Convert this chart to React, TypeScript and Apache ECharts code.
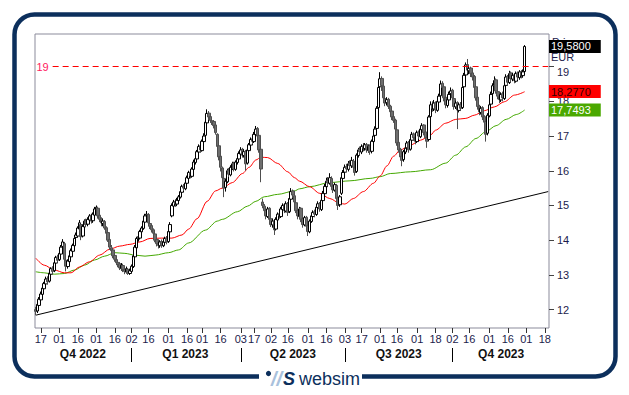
import React, { useEffect, useRef } from 'react';
import * as echarts from 'echarts';

const FONT = '"Liberation Sans", Arial, sans-serif';

// trading calendar (category axis)
const START = '2022-10-12';
const END = '2023-12-20';
const HOLIDAYS = ['2022-12-26', '2023-04-07', '2023-04-10', '2023-05-01', '2023-08-15'];

function tradingDays(): string[] {
  const out: string[] = [];
  const d = new Date(START + 'T12:00:00Z');
  const end = new Date(END + 'T12:00:00Z');
  while (d <= end) {
    const wd = d.getUTCDay();
    const s = d.toISOString().slice(0, 10);
    if (wd !== 0 && wd !== 6 && HOLIDAYS.indexOf(s) < 0) out.push(s);
    d.setUTCDate(d.getUTCDate() + 1);
  }
  return out;
}
const dates = tradingDays();

// x tick labels
const tickDates = [
  '2022-10-17', '2022-11-01', '2022-11-16', '2022-12-01', '2022-12-16',
  '2023-01-02', '2023-01-16', '2023-02-01', '2023-02-16', '2023-03-01', '2023-03-16',
  '2023-04-03', '2023-04-17', '2023-05-02', '2023-05-16', '2023-06-01', '2023-06-16',
  '2023-07-03', '2023-07-17', '2023-08-01', '2023-08-16', '2023-09-01', '2023-09-18',
  '2023-10-02', '2023-10-16', '2023-11-01', '2023-11-16', '2023-12-01', '2023-12-18',
];
const quarterLabels = ['Q4 2022', 'Q1 2023', 'Q2 2023', 'Q3 2023', 'Q4 2023'];
const quarterStarts = ['2022-10-12', '2023-01-02', '2023-04-03', '2023-07-03', '2023-10-02'];

const yTicks = [12, 13, 14, 15, 16, 17, 18, 19];
const resistance = 19;

// daily candles [open, close, low, high], 12 Oct 2022 .. 30 Nov 2023
const candles: number[][] = [
  [12.00,11.95,11.84,12.08],[11.96,12.15,11.90,12.20],[12.12,12.30,12.08,12.36],[12.28,12.45,12.22,12.52],[12.44,12.62,12.40,12.70],
  [12.60,12.75,12.55,12.80],[12.74,12.88,12.68,12.95],[12.90,12.80,12.72,12.96],[12.82,13.05,12.78,13.10],[13.02,13.18,12.98,13.22],
  [13.20,13.10,13.02,13.25],[13.12,13.35,13.08,13.40],[13.34,13.50,13.28,13.55],[13.52,13.42,13.35,13.58],[13.44,13.62,13.40,13.68],
  [13.60,13.80,13.55,13.86],[13.82,13.95,13.75,14.03],[13.90,13.45,13.40,13.95],[13.42,13.25,13.10,13.48],[13.24,13.40,13.18,13.45],
  [13.38,13.55,13.32,13.60],[13.52,13.70,13.48,13.76],[13.68,13.85,13.62,13.90],[13.84,14.05,13.80,14.10],[14.08,14.15,13.98,14.22],
  [14.12,14.35,14.08,14.40],[14.32,14.50,14.28,14.58],[14.45,14.10,14.00,14.48],[14.12,14.40,14.08,14.45],[14.38,14.55,14.32,14.60],
  [14.56,14.45,14.38,14.62],[14.46,14.60,14.40,14.66],[14.58,14.70,14.52,14.75],[14.72,14.55,14.48,14.76],[14.56,14.75,14.50,14.80],
  [14.72,14.90,14.68,14.96],[14.88,14.95,14.80,15.00],[14.92,14.70,14.62,14.96],[14.72,14.60,14.52,14.78],[14.62,14.50,14.40,14.66],
  [14.48,14.55,14.40,14.62],[14.54,14.35,14.30,14.58],[14.36,14.20,14.12,14.40],[14.22,14.00,13.95,14.26],[14.02,13.80,13.72,14.06],
  [13.78,13.70,13.62,13.86],[13.72,13.55,13.48,13.76],[13.56,13.45,13.38,13.62],[13.44,13.35,13.28,13.50],[13.36,13.30,13.22,13.42],
  [13.32,13.20,13.14,13.36],[13.18,13.28,13.12,13.34],[13.27,13.15,13.08,13.32],[13.16,13.10,13.02,13.22],[13.08,13.18,13.04,13.24],
  [13.16,13.05,13.00,13.20],[13.04,13.12,13.00,13.18],[13.10,13.25,13.06,13.30],[13.24,13.55,13.20,13.60],[13.52,13.80,13.48,13.86],
  [13.78,14.05,13.74,14.10],[14.08,14.10,13.96,14.16],[14.06,14.25,14.02,14.30],[14.24,14.35,14.18,14.40],[14.34,14.55,14.30,14.62],
  [14.52,14.70,14.48,14.76],[14.72,14.75,14.60,14.84],[14.74,14.50,14.44,14.78],[14.48,14.40,14.32,14.55],[14.42,14.30,14.22,14.46],
  [14.30,14.20,14.12,14.34],[14.18,14.00,13.94,14.22],[14.02,13.90,13.82,14.06],[13.88,13.85,13.76,13.96],[13.84,13.95,13.78,14.00],
  [13.96,13.85,13.78,14.02],[13.84,13.95,13.80,14.00],[13.94,14.05,13.88,14.10],[14.06,13.95,13.88,14.12],[13.96,14.25,13.92,14.30],
  [14.24,14.45,14.20,14.52],[14.70,15.00,14.66,15.06],[14.98,15.10,14.92,15.16],[15.12,15.05,14.96,15.18],[15.04,15.15,14.98,15.22],
  [15.14,15.25,15.08,15.30],[15.24,15.40,15.20,15.46],[15.38,15.55,15.34,15.60],[15.56,15.50,15.42,15.62],[15.48,15.65,15.44,15.70],
  [15.64,15.80,15.60,15.86],[15.78,15.95,15.74,16.00],[15.96,15.85,15.78,16.02],[15.84,16.05,15.80,16.10],[16.04,16.25,16.00,16.32],
  [16.24,16.35,16.18,16.40],[16.34,16.55,16.30,16.60],[16.54,16.70,16.50,16.76],[16.72,16.60,16.52,16.78],[16.58,16.85,16.55,16.90],
  [16.84,17.00,16.80,17.08],[17.02,17.40,16.98,17.45],[17.38,17.65,17.34,17.77],[17.66,17.55,17.46,17.72],[17.56,17.45,17.38,17.60],
  [17.44,17.40,17.32,17.50],[17.42,17.30,17.22,17.46],[17.32,17.10,17.04,17.36],[17.05,16.70,16.62,17.08],[16.72,16.40,16.30,16.76],
  [16.42,16.10,15.98,16.46],[16.08,15.80,15.70,16.12],[15.78,15.50,15.24,15.84],[15.52,15.70,15.40,15.76],[15.68,16.00,15.64,16.06],
  [16.02,15.90,15.82,16.08],[15.88,16.10,15.84,16.16],[16.08,16.20,16.02,16.26],[16.22,16.05,15.98,16.26],[16.04,16.25,16.00,16.30],
  [16.24,16.35,16.18,16.40],[16.34,16.50,16.30,16.56],[16.48,16.60,16.44,16.68],[16.62,16.45,16.38,16.66],[16.44,16.55,16.38,16.62],
  [16.56,16.20,16.00,16.60],[16.22,16.60,16.18,16.66],[16.58,16.75,16.54,16.80],[16.74,16.90,16.70,16.96],[16.92,16.85,16.76,16.98],
  [16.84,17.05,16.80,17.12],[17.04,17.20,17.00,17.29],[17.22,17.00,16.92,17.26],[17.02,16.60,16.52,17.05],[16.62,16.05,15.67,16.66],
  [15.10,15.00,14.92,15.20],[14.98,14.85,14.76,15.04],[14.86,14.70,14.60,14.90],[14.68,14.90,14.64,14.96],[14.92,14.60,14.52,14.95],
  [14.62,14.45,14.38,14.66],[14.44,14.55,14.36,14.62],[14.56,14.30,14.15,14.60],[14.32,14.60,14.28,14.66],[14.58,14.75,14.54,14.80],
  [14.76,14.70,14.62,14.82],[14.68,14.90,14.64,14.96],[14.88,15.00,14.84,15.06],[15.02,14.85,14.78,15.06],[14.84,15.05,14.80,15.12],
  [15.06,14.80,14.70,15.10],[14.82,15.20,14.78,15.26],[15.18,15.40,15.14,15.50],[15.42,15.30,15.22,15.46],[15.28,15.10,15.02,15.32],
  [15.08,14.85,14.78,15.12],[14.86,14.70,14.60,14.90],[14.68,14.90,14.62,14.96],[14.92,14.60,14.52,14.95],[14.62,14.45,14.36,14.66],
  [14.44,14.65,14.40,14.70],[14.66,14.40,14.32,14.70],[14.42,14.25,14.12,14.46],[14.24,14.55,14.20,14.60],[14.54,14.70,14.50,14.76],
  [14.68,14.80,14.62,14.86],[14.82,14.75,14.66,14.88],[14.74,14.95,14.70,15.00],[14.94,15.05,14.88,15.12],[15.06,14.90,14.82,15.10],
  [14.88,15.15,14.84,15.20],[15.14,15.35,15.10,15.42],[15.34,15.55,15.30,15.62],[15.54,15.70,15.48,15.80],[15.72,15.65,15.56,15.82],
  [15.64,15.80,15.60,15.93],[15.78,15.55,15.48,15.84],[15.56,15.45,15.36,15.62],[15.44,15.60,15.40,15.66],[15.58,15.20,15.12,15.62],
  [15.22,15.00,14.87,15.26],[15.02,15.25,14.96,15.30],[15.35,15.80,15.30,15.86],[15.78,15.95,15.72,16.02],[15.96,16.10,15.90,16.18],
  [16.12,16.05,15.96,16.20],[16.04,16.20,15.98,16.28],[16.22,16.15,16.06,16.30],[16.14,16.30,16.08,16.40],[16.28,16.10,16.02,16.34],
  [16.08,15.95,15.86,16.12],[15.98,16.45,15.94,16.50],[16.44,16.60,16.38,16.66],[16.62,16.55,16.46,16.70],[16.54,16.70,16.48,16.76],
  [16.72,16.65,16.56,16.80],[16.64,16.75,16.58,16.80],[16.76,16.60,16.52,16.80],[16.58,16.70,16.52,16.76],[16.72,16.55,16.46,16.76],
  [16.56,16.85,16.50,16.90],[16.84,17.00,16.80,17.08],[17.02,17.20,16.96,17.28],[17.22,17.80,17.18,17.86],[17.82,18.40,17.78,18.50],
  [18.42,18.65,18.36,18.84],[18.66,18.45,18.30,18.72],[18.44,18.10,18.00,18.48],[18.08,17.95,17.86,18.14],[17.96,18.05,17.88,18.12],
  [18.06,17.85,17.78,18.10],[17.86,17.70,17.62,17.90],[17.72,17.55,17.46,17.76],[17.56,17.45,17.38,17.62],[17.46,17.20,17.12,17.50],
  [17.18,16.80,16.72,17.22],[16.82,16.60,16.52,16.86],[16.62,16.40,16.30,16.66],[16.42,16.30,16.13,16.46],[16.32,16.55,16.26,16.60],
  [16.54,16.65,16.48,16.72],[16.66,16.80,16.60,16.86],[16.82,16.60,16.52,16.86],[16.62,16.90,16.58,16.96],[16.88,17.05,16.84,17.12],
  [17.06,16.95,16.86,17.10],[16.96,16.85,16.76,17.00],[16.84,17.10,16.80,17.16],[17.12,17.00,16.92,17.16],[16.98,17.20,16.94,17.26],
  [17.18,17.30,17.12,17.37],[17.32,17.10,17.02,17.34],[17.12,16.95,16.86,17.16],[16.96,16.85,16.66,17.00],[16.90,17.55,16.86,17.60],
  [17.56,17.90,17.50,18.00],[17.92,17.80,17.70,18.00],[17.78,17.95,17.72,18.04],[17.96,17.75,17.66,18.00],[17.74,18.00,17.70,18.08],
  [17.98,18.15,17.94,18.22],[18.16,18.50,18.12,18.60],[18.52,18.40,18.30,18.58],[18.42,18.10,18.00,18.46],[18.12,17.90,17.80,18.16],
  [17.88,18.05,17.82,18.12],[18.04,18.20,17.98,18.28],[18.22,18.30,18.14,18.40],[18.32,18.10,18.00,18.36],[18.08,17.85,17.76,18.12],
  [17.84,17.95,17.78,18.02],[17.96,17.75,17.20,18.00],[17.74,17.90,17.68,17.96],[17.92,17.80,17.72,17.98],[17.82,18.40,17.78,18.46],
  [18.42,18.75,18.36,18.82],[18.76,19.05,18.70,19.12],[19.06,18.90,18.80,19.22],[18.88,18.95,18.78,19.02],[18.96,18.80,18.70,19.00],
  [18.82,18.70,18.60,18.88],[18.72,18.40,18.30,18.76],[18.42,18.10,18.02,18.46],[18.12,17.85,17.76,18.16],[17.86,17.70,17.60,17.90],
  [17.68,17.80,17.62,17.86],[17.82,17.55,17.46,17.86],[17.56,17.40,17.26,17.60],[17.42,17.05,16.84,17.46],[17.08,17.60,17.02,17.66],
  [17.58,17.90,17.54,17.96],[17.92,18.20,17.88,18.28],[18.22,18.45,18.16,18.52],[18.46,18.60,18.40,18.72],[18.62,18.30,18.22,18.66],
  [18.28,18.15,18.06,18.34],[18.14,18.05,17.95,18.20],[18.04,18.20,17.98,18.26],[18.22,18.10,18.00,18.28],[18.08,18.45,18.04,18.50],
  [18.46,18.70,18.40,18.78],[18.72,18.55,18.46,18.76],[18.54,18.80,18.50,18.88],[18.82,18.65,18.56,18.86],[18.64,18.75,18.58,18.82],
  [18.76,18.60,18.52,18.80],[18.58,18.80,18.54,18.86],[18.82,18.70,18.62,18.86],[18.68,18.85,18.62,18.90],[18.86,18.75,18.66,18.90],
  [18.74,18.85,18.68,18.92],[18.86,19.58,18.84,19.62],
];

// moving averages sampled at candle index: [index, value]
const maRed: number[][] = [
  [0,13.48],[5,13.28],[11,13.14],[17,13.06],[21,13.06],[26,13.23],[32,13.38],[38,13.57],[44,13.74],[50,13.83],
  [56,13.88],[62,13.95],[68,14.05],[75,14.06],[81,14.06],[87,14.15],[91,14.32],[96,14.62],[102,15.12],[107,15.42],
  [111,15.50],[117,15.66],[123,15.92],[127,16.10],[131,16.31],[134,16.39],[138,16.38],[144,16.21],[150,15.97],[154,15.80],
  [157,15.70],[163,15.54],[169,15.35],[175,15.20],[181,15.06],[184,15.04],[189,15.20],[195,15.40],[201,15.64],[205,15.85],
  [209,16.14],[213,16.42],[217,16.60],[223,16.74],[229,16.88],[235,17.03],[238,17.17],[244,17.37],[250,17.48],[256,17.51],
  [261,17.60],[267,17.73],[273,17.84],[279,17.99],[285,18.18],[291,18.277],
];
const maGreen: number[][] = [
  [0,13.09],[5,13.06],[11,13.02],[17,13.04],[23,13.14],[29,13.28],[35,13.43],[41,13.54],[47,13.64],[53,13.62],
  [59,13.57],[65,13.54],[71,13.57],[79,13.64],[85,13.72],[91,13.92],[101,14.29],[108,14.55],[111,14.60],[120,14.82],
  [126,14.98],[131,15.12],[136,15.25],[144,15.32],[154,15.42],[157,15.48],[163,15.54],[175,15.66],[187,15.71],[199,15.78],
  [205,15.83],[211,15.92],[223,15.97],[235,16.03],[244,16.22],[250,16.45],[256,16.69],[262,16.93],[268,17.13],[274,17.30],
  [280,17.48],[286,17.62],[291,17.7493],
];
// support trend line [index, value]
const trend: number[][] = [[0, 11.84], [305, 15.40]];

const fmt = (v: number) => v.toFixed(4).replace('.', ',');

export default function App() {
  const ref = useRef<HTMLDivElement>(null);
  useEffect(() => {
    if (!ref.current) return;
    const chart = echarts.init(ref.current, undefined, { renderer: 'svg' });
    const idxOf: Record<string, number> = {};
    dates.forEach((d, i) => (idxOf[d] = i));
    const tickIdx = new Set(tickDates.map((d) => idxOf[d]));
    const qStartIdx = quarterStarts.map((d) => idxOf[d]);
    const sepIdx = new Set(qStartIdx.slice(1));
    const midMap = new Map<number, string>();
    qStartIdx.forEach((s, k) => {
      const e = k + 1 < qStartIdx.length ? qStartIdx[k + 1] - 1 : dates.length - 1;
      midMap.set(Math.ceil((s + e) / 2), quarterLabels[k]);
    });
    const toCat = (arr: number[][]) => arr.map(([i, v]) => [dates[i], v]);
    const lastClose = candles[candles.length - 1][1];
    const lastRed = maRed[maRed.length - 1][1];
    const lastGreen = maGreen[maGreen.length - 1][1];
    const boxLabel = (bg: string, fg: string) => ({
      show: true,
      position: 'end',
      distance: 0,
      backgroundColor: bg,
      color: fg,
      fontSize: 11,
      lineHeight: 11,
      fontFamily: FONT,
      padding: [1, 10, 1, 2],
    });
    const hiddenLine = { color: 'rgba(0,0,0,0)', width: 1 };

    const option: any = {
      animation: false,
      textStyle: { fontFamily: FONT },
      grid: {
        left: 35, right: 80, top: 34, bottom: 67,
        show: true, borderColor: '#8b8b9b', borderWidth: 1, backgroundColor: 'rgba(0,0,0,0)',
      },
      xAxis: [
        {
          type: 'category', data: dates, boundaryGap: true,
          axisLine: { show: false },
          axisTick: { show: true, alignWithLabel: true, interval: (i: number) => tickIdx.has(i), length: 5, lineStyle: { color: '#333' } },
          axisLabel: {
            interval: (i: number) => tickIdx.has(i),
            formatter: (v: string) => v.slice(8, 10),
            fontSize: 11, color: '#1c1c4c', margin: 5, fontFamily: FONT,
          },
          splitLine: { show: false },
        },
        {
          type: 'category', data: dates, boundaryGap: true, position: 'bottom', offset: 20,
          axisLine: { show: false },
          axisTick: { show: true, alignWithLabel: true, interval: (i: number) => sepIdx.has(i), length: 14, lineStyle: { color: '#000' } },
          axisLabel: {
            interval: (i: number) => midMap.has(i),
            formatter: (_v: string, i: number) => midMap.get(i) || '',
            fontSize: 12, fontWeight: 'bold', color: '#111', margin: 0, fontFamily: FONT,
          },
          splitLine: { show: false },
        },
      ],
      yAxis: {
        type: 'value', position: 'right', min: 11.47, max: 19.94, scale: true,
        axisLine: { show: false },
        splitLine: { show: false },
        axisTick: { show: true, length: 5, customValues: yTicks, lineStyle: { color: '#444' } },
        axisLabel: {
          customValues: yTicks, margin: 8, fontSize: 11, color: '#1c1c4c', fontFamily: FONT,
          formatter: (v: number) => (v === 19 ? '{s|19}' : String(v)),
          rich: { s: { padding: [11, 0, 0, 0], fontSize: 11, color: '#1c1c4c', fontFamily: FONT } },
        },
      },
      series: [
        {
          type: 'line', name: 'trend', data: toCat(trend), symbol: 'none', silent: true,
          lineStyle: { color: '#000', width: 1 }, z: 1,
          markLine: {
            silent: true, symbol: ['none', 'none'], animation: false,
            lineStyle: { color: '#ff0000', width: 1, type: [6, 4] },
            label: { show: true, position: 'start', distance: 4, formatter: String(resistance), color: '#ff2060', fontSize: 11, fontFamily: FONT },
            data: [[{ coord: [dates[10], resistance] }, { coord: [dates[dates.length - 1], resistance] }]],
          },
        },
        {
          type: 'line', name: 'ma100', data: toCat(maGreen), symbol: 'none', smooth: 0.3, smoothMonotone: 'x', silent: true,
          lineStyle: { color: '#44a800', width: 1 }, z: 2,
          markLine: {
            silent: true, symbol: ['none', 'none'], animation: false, lineStyle: hiddenLine,
            label: { ...boxLabel('#4aa800', '#ffffff'), formatter: fmt(lastGreen) },
            data: [{ yAxis: lastGreen }],
          },
        },
        {
          type: 'line', name: 'ma50', data: toCat(maRed), symbol: 'none', smooth: 0.3, smoothMonotone: 'x', silent: true,
          lineStyle: { color: '#ff0000', width: 1 }, z: 2,
          markLine: {
            silent: true, symbol: ['none', 'none'], animation: false, lineStyle: hiddenLine,
            label: { ...boxLabel('#ff0000', '#330000'), formatter: fmt(lastRed) },
            data: [{ yAxis: lastRed }],
          },
        },
        {
          type: 'candlestick', name: 'price', data: candles, barWidth: 3, silent: true, z: 3,
          itemStyle: { color: '#ffffff', color0: '#6e6e6e', borderColor: '#000000', borderColor0: '#4e4e4e', borderWidth: 1 },
          markLine: {
            silent: true, symbol: ['none', 'none'], animation: false, lineStyle: hiddenLine,
            label: { ...boxLabel('#000000', '#ffffff'), formatter: fmt(lastClose) },
            data: [{ yAxis: lastClose }],
          },
        },
      ],
      graphic: [
        {
          type: 'rect', z: 0,
          shape: { x: 14.5, y: 14.5, width: 601, height: 362, r: 20 },
          style: { fill: 'none', stroke: '#0c2f5c', lineWidth: 4.5 },
        },
        { type: 'rect', z: 1, shape: { x: 259, y: 368, width: 103, height: 20 }, style: { fill: '#ffffff' } },
        { type: 'circle', z: 2, shape: { cx: 268.5, cy: 373.5, r: 2.6 }, style: { fill: '#0c2f5c' } },
        {
          type: 'text', z: 2, x: 271, y: 379,
          style: { text: '//', fill: '#a9c1dc', font: 'italic bold 20px "Liberation Sans", Arial', verticalAlign: 'middle', align: 'left' },
        },
        {
          type: 'text', z: 3, x: 283, y: 379,
          style: { text: 'S', fill: '#0c2f5c', font: 'italic bold 18px "Liberation Sans", Arial', verticalAlign: 'middle', align: 'left' },
        },
        {
          type: 'text', z: 2, x: 299, y: 379,
          style: { text: 'websim', fill: '#0c2f5c', font: '18px "Liberation Sans", Arial', verticalAlign: 'middle', align: 'left' },
        },
        {
          type: 'text', z: 0, x: 552, y: 36,
          style: { text: 'Price', fill: '#1c1c4c', font: '11px "Liberation Sans", Arial', verticalAlign: 'top', align: 'left' },
        },
        {
          type: 'text', z: 0, x: 551, y: 51,
          style: { text: 'EUR', fill: '#1c1c4c', font: '11px "Liberation Sans", Arial', verticalAlign: 'top', align: 'left' },
        },
      ],
    };
    chart.setOption(option);
    return () => chart.dispose();
  }, []);
  return <div ref={ref} style={{ position: 'absolute', left: 0, top: 0, width: 629, height: 395, background: '#fff' }} />;
}
